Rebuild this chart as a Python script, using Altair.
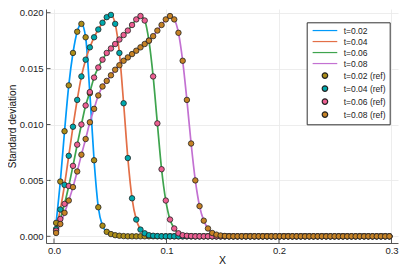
import altair as alt
import pandas as pd

# x positions of the sampled cells (0.00375 spacing, cell centres)
x_grid = [0.001875, 0.005625, 0.009375, 0.013125, 0.016875, 0.020625, 0.024375, 0.028125, 0.031875, 0.035625,
          0.039375, 0.043125, 0.046875, 0.050625, 0.054375, 0.058125, 0.061875, 0.065625, 0.069375, 0.073125,
          0.076875, 0.080625, 0.084375, 0.088125, 0.091875, 0.095625, 0.099375, 0.103125, 0.106875, 0.110625,
          0.114375, 0.118125, 0.121875, 0.125625, 0.129375, 0.133125, 0.136875, 0.140625, 0.144375, 0.148125,
          0.151875, 0.155625, 0.159375, 0.163125, 0.166875, 0.170625, 0.174375, 0.178125, 0.181875, 0.185625,
          0.189375, 0.193125, 0.196875, 0.200625, 0.204375, 0.208125, 0.211875, 0.215625, 0.219375, 0.223125,
          0.226875, 0.230625, 0.234375, 0.238125, 0.241875, 0.245625, 0.249375, 0.253125, 0.256875, 0.260625,
          0.264375, 0.268125, 0.271875, 0.275625, 0.279375, 0.283125, 0.286875, 0.290625, 0.294375, 0.298125]

ref_t002 = [0.0012, 0.0049, 0.0094, 0.0135, 0.0164, 0.0183, 0.0190, 0.0178, 0.0128, 0.0068,
            0.0026, 0.00095, 0.0004, 0.0002, 0.0001, 0.00005, 0.00002, 0.0, 0.0, 0.0,
            0.0, 0.0, 0.0, 0.0, 0.0, 0.0, 0.0, 0.0, 0.0, 0.0,
            0.0, 0.0, 0.0, 0.0, 0.0, 0.0, 0.0, 0.0, 0.0, 0.0,
            0.0, 0.0, 0.0, 0.0, 0.0, 0.0, 0.0, 0.0, 0.0, 0.0,
            0.0, 0.0, 0.0, 0.0, 0.0, 0.0, 0.0, 0.0, 0.0, 0.0,
            0.0, 0.0, 0.0, 0.0, 0.0, 0.0, 0.0, 0.0, 0.0, 0.0,
            0.0, 0.0, 0.0, 0.0, 0.0, 0.0, 0.0, 0.0, 0.0, 0.0]

ref_t004 = [0.00065, 0.0024, 0.0046, 0.0072, 0.0098, 0.0122, 0.0143, 0.0158, 0.0169, 0.0178,
            0.0185, 0.0191, 0.0196, 0.0198, 0.0190, 0.0164, 0.0119, 0.0070, 0.0034, 0.0015,
            0.0006, 0.00027, 0.0001, 0.00005, 0.00002, 0.0, 0.0, 0.0, 0.0, 0.0,
            0.0, 0.0, 0.0, 0.0, 0.0, 0.0, 0.0, 0.0, 0.0, 0.0,
            0.0, 0.0, 0.0, 0.0, 0.0, 0.0, 0.0, 0.0, 0.0, 0.0,
            0.0, 0.0, 0.0, 0.0, 0.0, 0.0, 0.0, 0.0, 0.0, 0.0,
            0.0, 0.0, 0.0, 0.0, 0.0, 0.0, 0.0, 0.0, 0.0, 0.0,
            0.0, 0.0, 0.0, 0.0, 0.0, 0.0, 0.0, 0.0, 0.0, 0.0]

ref_t006 = [0.0005, 0.00155, 0.0029, 0.0045, 0.0063, 0.0082, 0.0100, 0.0117, 0.0129, 0.0142,
            0.0151, 0.0158, 0.0164, 0.0168, 0.0172, 0.0176, 0.0180, 0.0184, 0.0189, 0.0194,
            0.0197, 0.0193, 0.0175, 0.0143, 0.0101, 0.0060, 0.0032, 0.0015, 0.0007, 0.00027,
            0.0001, 0.00005, 0.00002, 0.0, 0.0, 0.0, 0.0, 0.0, 0.0, 0.0,
            0.0, 0.0, 0.0, 0.0, 0.0, 0.0, 0.0, 0.0, 0.0, 0.0,
            0.0, 0.0, 0.0, 0.0, 0.0, 0.0, 0.0, 0.0, 0.0, 0.0,
            0.0, 0.0, 0.0, 0.0, 0.0, 0.0, 0.0, 0.0, 0.0, 0.0,
            0.0, 0.0, 0.0, 0.0, 0.0, 0.0, 0.0, 0.0, 0.0, 0.0]

ref_t008 = [0.0003, 0.0011, 0.0021, 0.0032, 0.0044, 0.0058, 0.0073, 0.0087, 0.0102, 0.0114,
            0.0126, 0.0134, 0.0139, 0.0144, 0.0149, 0.0153, 0.0157, 0.0160, 0.0163, 0.0166,
            0.0169, 0.0172, 0.0175, 0.0179, 0.0184, 0.0189, 0.0194, 0.0197, 0.0194, 0.0182,
            0.0157, 0.0122, 0.0083, 0.0050, 0.0027, 0.0014, 0.0007, 0.0003, 0.00015, 0.00007,
            0.00003, 0.0, 0.0, 0.0, 0.0, 0.0, 0.0, 0.0, 0.0, 0.0,
            0.0, 0.0, 0.0, 0.0, 0.0, 0.0, 0.0, 0.0, 0.0, 0.0,
            0.0, 0.0, 0.0, 0.0, 0.0, 0.0, 0.0, 0.0, 0.0, 0.0,
            0.0, 0.0, 0.0, 0.0, 0.0, 0.0, 0.0, 0.0, 0.0, 0.0]

# simulated curves follow the reference values
sim_t002 = ref_t002
sim_t004 = ref_t004
sim_t006 = ref_t006
sim_t008 = ref_t008

line_labels = ["t=0.02", "t=0.04", "t=0.06", "t=0.08"]
ref_labels = ["t=0.02 (ref)", "t=0.04 (ref)", "t=0.06 (ref)", "t=0.08 (ref)"]
line_colors = ["#009AFA", "#E36F47", "#3EA44E", "#C371D2"]
ref_colors = ["#AC8D18", "#00A9AD", "#ED5F92", "#C68225"]
x_ticks = [0.0, 0.1, 0.2, 0.3]
y_ticks = [0.0, 0.005, 0.010, 0.015, 0.020]

line_rows = []
for lab, vals in zip(line_labels, [sim_t002, sim_t004, sim_t006, sim_t008]):
    for xv, yv in zip(x_grid, vals):
        line_rows.append({"x": xv, "y": yv, "series": lab})
point_rows = []
for lab, vals in zip(ref_labels, [ref_t002, ref_t004, ref_t006, ref_t008]):
    for xv, yv in zip(x_grid, vals):
        point_rows.append({"x": xv, "y": yv, "series": lab})
line_df = pd.DataFrame(line_rows)
point_df = pd.DataFrame(point_rows)

all_labels = line_labels + ref_labels
FONT = "Liberation Sans"

x_scale = alt.Scale(domain=[-0.00711, 0.30578], nice=False, zero=False)
y_scale = alt.Scale(domain=[-0.000598, 0.02033], nice=False, zero=False)

x_axis = alt.Axis(values=x_ticks, format=".1f", title="X", ticks=False, grid=True,
                  labelPadding=2, titlePadding=1, titleFontSize=10.5)
y_axis = alt.Axis(values=y_ticks, format=".3f", title="Standard deviation", ticks=False, grid=True,
                  labelPadding=3, titlePadding=2, titleFontSize=10)

legend = alt.Legend(title=None, orient="none", legendX=260.7, legendY=13.3, padding=4,
                    strokeColor="#333333", fillColor="white", labelFontSize=8.5, labelFont=FONT,
                    labelColor="#222222", rowPadding=2, symbolOffset=10, labelOffset=14.5,
                    symbolSize=30, symbolStrokeWidth=1.2)

stroke_scale = alt.Scale(domain=all_labels, range=line_colors + ["#222222"] * 4)
fill_scale = alt.Scale(domain=all_labels, range=line_colors + ref_colors)
shape_scale = alt.Scale(domain=all_labels, range=["M-4.5,0H4.5"] * 4 + ["circle"] * 4)

lines = alt.Chart(line_df).mark_line(strokeWidth=1.7, interpolate="monotone").encode(
    x=alt.X("x:Q", scale=x_scale, axis=x_axis),
    y=alt.Y("y:Q", scale=y_scale, axis=y_axis),
    stroke=alt.Stroke("series:N", scale=stroke_scale, legend=legend),
)

points = alt.Chart(point_df).mark_point(filled=True, opacity=1, size=30, strokeWidth=0.8).encode(
    x=alt.X("x:Q", scale=x_scale, axis=x_axis),
    y=alt.Y("y:Q", scale=y_scale, axis=y_axis),
    fill=alt.Fill("series:N", scale=fill_scale, legend=legend),
    stroke=alt.Stroke("series:N", scale=stroke_scale, legend=legend),
    shape=alt.Shape("series:N", scale=shape_scale, legend=legend),
)

xtick_df = pd.DataFrame({"tick": x_ticks})
ytick_df = pd.DataFrame({"tick": y_ticks})
xticks = alt.Chart(xtick_df).mark_rule(color="#555555", strokeWidth=1).encode(
    x=alt.X("tick:Q", scale=x_scale, axis=x_axis),
    y=alt.value(234), y2=alt.value(229.5),
)
yticks = alt.Chart(ytick_df).mark_rule(color="#555555", strokeWidth=1).encode(
    y=alt.Y("tick:Q", scale=y_scale, axis=y_axis),
    x=alt.value(0), x2=alt.value(4.5),
)

chart = alt.layer(xticks, yticks, lines, points).properties(
    width=352, height=234,
    autosize=alt.AutoSizeParams(type="none"),
    padding={"left": 38, "top": 1, "right": 3, "bottom": 22},
).configure_view(stroke=None).configure_axis(
    labelFont=FONT, titleFont=FONT, labelFontSize=9.5,
    labelColor="#222222", titleColor="#111111", titleFontWeight="normal",
    domainColor="#555555", domainWidth=1, gridColor="#e8e8e8", gridWidth=0.8,
)

chart.save("out.html", embed_options={"renderer": "svg", "actions": False})
